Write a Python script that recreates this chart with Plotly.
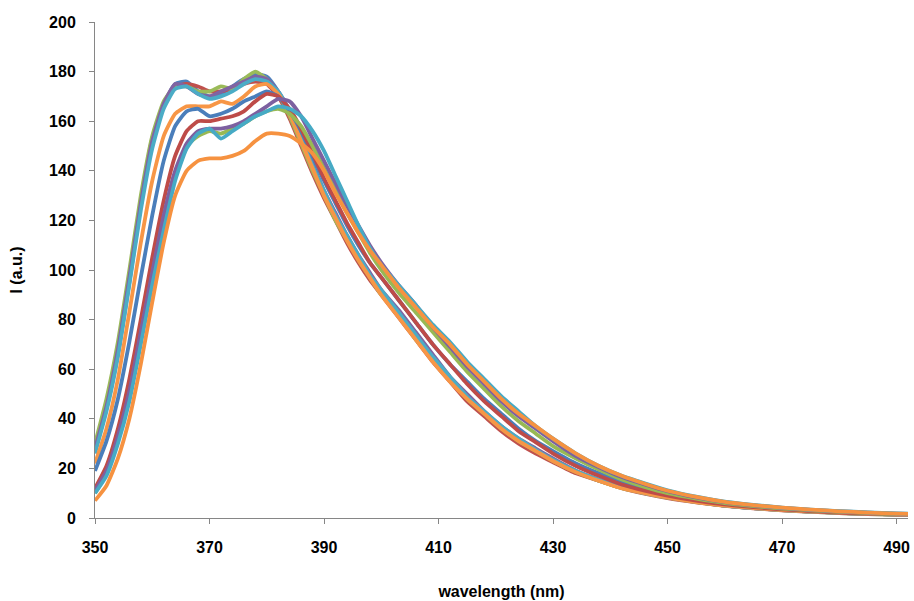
import plotly.graph_objects as go

wavelength = [350, 352, 354, 356, 358, 360, 362, 364, 366, 368, 370, 372, 374, 376, 378, 380,
              382, 384, 386, 388, 390, 392, 394, 396, 398, 400, 403, 406, 409, 412, 415, 418,
              421, 424, 427, 430, 434, 438, 442, 446, 450, 455, 460, 465, 470, 475, 480, 485, 490, 493]

s1 = [27, 44, 66, 95, 126, 152, 167, 175, 176, 172, 170, 171, 174, 177, 179, 178, 172, 163, 152, 141,
      131, 121, 113, 104, 98, 91, 83, 73, 65, 56, 49, 42, 36, 31, 27, 23, 19, 15, 12.5, 10,
      8.5, 6.5, 5, 4, 3.2, 2.6, 2.1, 1.7, 1.4, 1.3]
s2 = [29, 46, 69, 98, 128, 153, 167, 174, 175, 174, 172, 172, 173, 175, 176, 175, 170, 161, 150, 139,
      129, 120, 111, 103, 96, 90, 81, 72, 63, 55, 47, 41, 35, 30, 26, 22.5, 18, 15, 12, 9.8,
      8, 6.3, 4.9, 3.9, 3.1, 2.5, 2, 1.6, 1.3, 1.2]
s3 = [30, 48, 71, 100, 130, 154, 168, 174, 174, 172, 172, 174, 173, 177, 180, 177, 171, 162, 151, 140,
      130, 120, 112, 104, 97, 90, 82, 72, 64, 56, 48, 42, 36, 31, 27, 23, 18.5, 15, 12, 10,
      8.2, 6.4, 5, 4, 3.2, 2.5, 2, 1.6, 1.3, 1.2]
s4 = [28, 45, 68, 97, 127, 152, 167, 175, 174, 171, 170, 172, 174, 176, 178, 177, 172, 164, 154, 143,
      132, 123, 114, 106, 99, 92, 84, 75, 66, 57, 50, 43, 37, 32, 28, 24, 19, 15.5, 12.5, 10.2,
      8.4, 6.5, 5, 4, 3.3, 2.6, 2.1, 1.7, 1.4, 1.3]
s5 = [26, 43, 65, 94, 124, 149, 165, 173, 174, 171, 169, 170, 172, 175, 177, 176, 172, 164, 153, 142,
      132, 122, 114, 106, 98, 92, 83, 74, 65, 57, 49, 43, 37, 32, 27.5, 23.5, 19, 15.5, 12.5, 10,
      8.5, 6.5, 5, 4, 3.2, 2.6, 2.1, 1.7, 1.4, 1.3]
s6 = [22, 36, 56, 83, 111, 136, 154, 163, 166, 166, 166, 168, 167, 170, 174, 175, 171, 163, 152, 141,
      130, 121, 112, 104, 97, 90, 81, 72, 63, 55, 48, 42, 36, 31, 27, 23, 18.5, 15, 12, 10,
      8.3, 6.4, 5, 4, 3.2, 2.6, 2.1, 1.7, 1.4, 1.3]
s7 = [19, 31, 48, 71, 97, 122, 144, 158, 164, 165, 162, 163, 165, 168, 170, 172, 170, 164, 156, 146,
      136, 127, 118, 110, 103, 97, 88, 79, 70, 62, 55, 48, 42, 36, 31, 27, 22, 18, 14.5, 11.8,
      9.5, 7.4, 5.8, 4.6, 3.7, 3, 2.4, 2, 1.6, 1.5]
s8 = [12, 21, 36, 56, 80, 105, 128, 146, 156, 160, 160, 161, 162, 164, 168, 171, 170, 165, 157, 147,
      137, 128, 119, 111, 103, 97, 88, 79, 70, 62, 54, 47, 41, 35, 30.5, 26, 21, 17, 13.5, 11,
      9, 7, 5.5, 4.4, 3.5, 2.8, 2.2, 1.8, 1.5, 1.4]
s9 = [10, 18, 32, 50, 74, 98, 121, 139, 150, 154, 156, 155, 157, 159, 162, 164, 165, 163, 158, 150,
      141, 132, 123, 115, 107, 100, 91, 83, 75, 67, 59, 52, 45, 39, 34, 29, 24, 19.5, 15.5, 12.5,
      10, 7.8, 6, 4.8, 3.8, 3.1, 2.5, 2, 1.6, 1.5]
s10 = [11, 19, 33, 51, 75, 99, 122, 140, 151, 156, 157, 157, 158, 160, 163, 166, 169, 168, 162, 153,
       144, 135, 126, 118, 110, 103, 94, 86, 77, 69, 61, 54, 47, 41, 36, 31, 25, 20.5, 16.5, 13.5,
       10.8, 8.3, 6.4, 5.1, 4.1, 3.3, 2.7, 2.2, 1.8, 1.6]
s11 = [10, 17, 30, 47, 70, 94, 116, 136, 149, 155, 157, 153, 156, 159, 162, 164, 166, 165, 162, 156,
       148, 138, 128, 118, 109, 102, 94, 86, 78, 71, 63, 56, 49, 43, 37, 32, 26, 21, 17, 14,
       11.2, 8.6, 6.6, 5.3, 4.2, 3.4, 2.8, 2.3, 1.9, 1.7]
s12 = [7, 13, 24, 40, 62, 87, 111, 130, 140, 144, 145, 145, 146, 148, 152, 155, 155, 154, 151, 147,
       140, 131, 123, 115, 108, 102, 93, 85, 77, 70, 62, 55, 48, 42, 37, 32, 26, 21, 17, 13.8,
       11, 8.5, 6.5, 5.2, 4.2, 3.4, 2.7, 2.2, 1.8, 1.6]

series = [s1, s2, s3, s4, s5, s6, s7, s8, s9, s10, s11, s12]
names = ["1", "2", "3", "4", "5", "6", "7", "8", "9", "10", "11", "12"]
colors = ["#4F81BD", "#C0504D", "#9BBB59", "#8064A2", "#4BACC6", "#F79646",
          "#4A7EBB", "#BE4B48", "#98B954", "#7D60A0", "#46AAC5", "#F69240"]

x_ticks = [350, 370, 390, 410, 430, 450, 470, 490]
y_ticks = [0, 20, 40, 60, 80, 100, 120, 140, 160, 180, 200]

fig = go.Figure()
for name, ys, c in zip(names, series, colors):
    fig.add_trace(go.Scatter(x=wavelength, y=ys, mode="lines", name=name,
                             line=dict(color=c, width=3.8, shape="spline", smoothing=0.5),
                             showlegend=False))

font_family = "Liberation Sans, Arial, sans-serif"
tick_font = dict(family=font_family, size=16, color="#000000", weight="bold")
fig.update_layout(
    width=914, height=601,
    margin=dict(l=95, r=4, t=22, b=81),
    plot_bgcolor="white", paper_bgcolor="white",
    font=dict(family=font_family, size=16, color="#000000"),
    xaxis=dict(range=[350, 492], tickvals=x_ticks, ticktext=[str(v) for v in x_ticks],
               showgrid=False, zeroline=False, showline=True, linecolor="#868686", linewidth=1,
               ticks="outside", ticklen=5, tickcolor="#868686", ticklabelstandoff=10,
               tickfont=tick_font,
               title=dict(text="<b>wavelength (nm)</b>", standoff=30,
                          font=dict(family=font_family, size=16, color="#000000"))),
    yaxis=dict(range=[0, 200], tickvals=y_ticks,
               showgrid=False, zeroline=False, showline=True, linecolor="#868686", linewidth=1,
               ticks="outside", ticklen=5, tickcolor="#868686", ticklabelstandoff=10,
               tickfont=tick_font,
               title=dict(text="<b>I (a.u.)</b>", standoff=22,
                          font=dict(family=font_family, size=16, color="#000000"))),
)

fig.write_html("out.html", config={"displayModeBar": False},
               post_script="document.body.style.margin='0';")
